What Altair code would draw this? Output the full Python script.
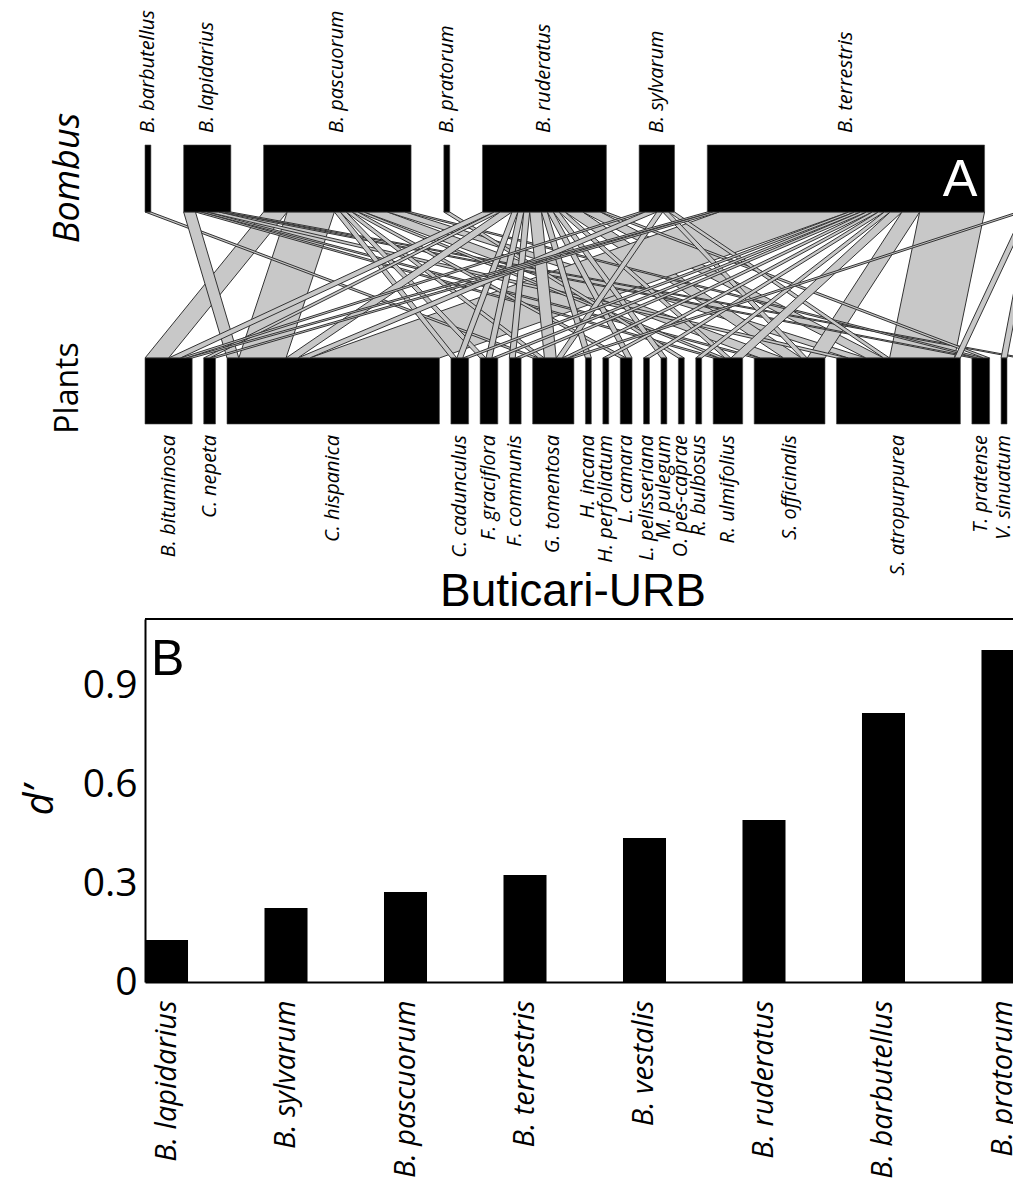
import altair as alt
import pandas as pd

# ---------------- data ----------------
bees = ["B. barbutellus", "B. lapidarius", "B. pascuorum", "B. pratorum",
        "B. ruderatus", "B. sylvarum", "B. terrestris", "B. vestalis"]

plants = ["B. bituminosa", "C. nepeta", "C. hispanica", "C. cadunculus",
          "F. graciflora", "F. communis", "G. tomentosa", "H. incana",
          "H. perfoliatum", "L. camara", "L. pelisseriana", "M. pulegum",
          "O. pes-caprae", "R. bulbosus", "R. ulmifolius", "S. officinalis",
          "S. atropurpurea", "T. pratense", "V. sinuatum", "V. villosa"]

# interaction counts: one row per bee, one column per plant (order as above)
interactions = [
    [0, 0, 0, 0, 0, 0, 1, 0, 0, 0, 0, 0, 0, 0, 0, 0, 0, 0, 0, 0],   # barbutellus
    [0, 0, 2, 0, 0, 0, 0, 0, 0, 0, 0, 0, 0, 0, 1, 1, 2, 1, 0, 1],   # lapidarius
    [4, 0, 8, 1, 1, 0, 1, 0, 0, 1, 0, 0, 0, 0, 1, 4, 3, 1, 0, 0],   # pascuorum
    [0, 0, 0, 0, 0, 0, 0, 0, 0, 0, 0, 0, 1, 0, 0, 0, 0, 0, 0, 0],   # pratorum
    [2, 1, 2, 1, 1, 1, 2, 1, 0, 1, 0, 1, 0, 0, 1, 3, 3, 1, 0, 0],   # ruderatus
    [1, 0, 2, 0, 0, 0, 1, 0, 0, 0, 0, 0, 0, 0, 0, 1, 1, 0, 0, 0],   # sylvarum
    [1, 1, 22, 1, 1, 1, 1, 0, 1, 0, 1, 0, 0, 1, 2, 3, 11, 0, 0, 0],  # terrestris
    [0, 0, 0, 0, 0, 0, 1, 0, 0, 0, 0, 0, 0, 0, 0, 0, 1, 0, 1, 2],   # vestalis
]

d_bees = ["B. lapidarius", "B. sylvarum", "B. pascuorum", "B. terrestris",
          "B. vestalis", "B. ruderatus", "B. barbutellus", "B. pratorum"]
d_values = [0.127, 0.224, 0.273, 0.324, 0.436, 0.491, 0.815, 1.006]

site_title = "Buticari-URB"

# ---------------- layout constants ----------------
PAD_LEFT = 137
PLOT_W = 868          # keeps the svg at 1005 px so it is not shrunk by the page
PLOT_H = 974
UNIT_PX = 5.9         # pixels per interaction
GAP_HIGH = 5.55       # gap between bee boxes (interaction units)
GAP_LOW = 1.95        # gap between plant boxes (interaction units)
HIGH_Y0, HIGH_Y1 = 137, 204
LOW_Y0, LOW_Y1 = 350, 416

nb, npl = len(bees), len(plants)
bee_tot = [sum(r) for r in interactions]
plant_tot = [sum(interactions[i][j] for i in range(nb)) for j in range(npl)]


def starts(totals, gap):
    out, s = [], 0.0
    for t in totals:
        out.append(s)
        s += t + gap
    return out


bee_x = starts(bee_tot, GAP_HIGH)
plant_x = starts(plant_tot, GAP_LOW)

box_rows = []
for name, x0, t in zip(bees, bee_x, bee_tot):
    box_rows.append({"name": name, "x0": x0, "x1": x0 + t, "xc": x0 + t / 2, "level": "high"})
for name, x0, t in zip(plants, plant_x, plant_tot):
    box_rows.append({"name": name, "x0": x0, "x1": x0 + t, "xc": x0 + t / 2, "level": "low"})
boxes = pd.DataFrame(box_rows)

bee_cur = list(bee_x)
plant_cur = list(plant_x)
link_rows = []
lid = 0
for i in range(nb):
    for j in range(npl):
        c = interactions[i][j]
        if c > 0:
            link_rows.append({"link": lid, "w": c, "y": HIGH_Y1,
                              "x": bee_cur[i], "x2": bee_cur[i] + c})
            link_rows.append({"link": lid, "w": c, "y": LOW_Y0,
                              "x": plant_cur[j], "x2": plant_cur[j] + c})
            bee_cur[i] += c
            plant_cur[j] += c
            lid += 1
links = pd.DataFrame(link_rows)
wide_links = links[links["w"] >= 3]
thin_links = links[links["w"] < 3]

xweb = alt.Scale(domain=[0, PLOT_W / UNIT_PX], range=[0, PLOT_W], nice=False, zero=False)
yweb = alt.Scale(domain=[0, PLOT_H], range=[0, PLOT_H], nice=False, zero=False)

LINK_FILL = "#c8c8c8"
LINK_STROKE = "#333333"


def link_layer(df):
    return alt.Chart(df).mark_area(
        orient="horizontal", fill=LINK_FILL, stroke=LINK_STROKE, strokeWidth=1
    ).encode(
        y=alt.Y("y:Q", scale=yweb, axis=None),
        x=alt.X("x:Q", scale=xweb, axis=None, stack=False),
        x2="x2:Q",
        detail="link:N",
    )


high_boxes = alt.Chart(boxes[boxes["level"] == "high"]).mark_rect(
    color="black", stroke="#444", strokeWidth=0.6
).encode(
    x=alt.X("x0:Q", scale=xweb, axis=None), x2="x1:Q",
    y=alt.value(HIGH_Y0), y2=alt.value(HIGH_Y1),
)
low_boxes = alt.Chart(boxes[boxes["level"] == "low"]).mark_rect(
    color="black", stroke="#444", strokeWidth=0.6
).encode(
    x=alt.X("x0:Q", scale=xweb, axis=None), x2="x1:Q",
    y=alt.value(LOW_Y0), y2=alt.value(LOW_Y1),
)
high_labels = alt.Chart(boxes[boxes["level"] == "high"]).mark_text(
    angle=270, align="left", baseline="middle", font="Open Sans",
    fontStyle="italic", fontSize=20, color="black"
).encode(
    x=alt.X("xc:Q", scale=xweb, axis=None), y=alt.value(125), text="name:N"
)
low_labels = alt.Chart(boxes[boxes["level"] == "low"]).mark_text(
    angle=270, align="right", baseline="middle", font="Open Sans",
    fontStyle="italic", fontSize=20, color="black"
).encode(
    x=alt.X("xc:Q", scale=xweb, axis=None), y=alt.value(427), text="name:N"
)

t_bombus = alt.Chart(pd.DataFrame({"t": ["Bombus"]})).mark_text(
    angle=270, align="center", baseline="middle", font="Open Sans",
    fontStyle="italic", fontSize=36, color="black"
).encode(x=alt.value(-77), y=alt.value(170), text="t:N")
t_plants = alt.Chart(pd.DataFrame({"t": ["Plants"]})).mark_text(
    angle=270, align="center", baseline="middle", font="Open Sans",
    fontSize=32, color="black"
).encode(x=alt.value(-77), y=alt.value(380), text="t:N")
t_site = alt.Chart(pd.DataFrame({"t": [site_title]})).mark_text(
    align="center", baseline="middle", font="Liberation Sans",
    fontSize=46, color="black"
).encode(x=alt.value(428), y=alt.value(584), text="t:N")
t_A = alt.Chart(pd.DataFrame({"t": ["A"]})).mark_text(
    align="center", baseline="middle", font="Liberation Sans",
    fontSize=52, color="white"
).encode(x=alt.value(815), y=alt.value(172), text="t:N")

web = alt.layer(
    link_layer(wide_links), link_layer(thin_links),
    high_boxes, low_boxes, high_labels, low_labels,
    t_bombus, t_plants, t_site, t_A,
)

# ---------------- panel B ----------------
df_d = pd.DataFrame({"bee": d_bees, "d": d_values})
yb = alt.Scale(domain=[0, 1.1], range=[PLOT_H, 611], nice=False, zero=True)

bars = alt.Chart(df_d).mark_bar(color="black").encode(
    x=alt.X(
        "bee:N", sort=d_bees,
        scale=alt.Scale(range=[0, 879.5], paddingInner=0.64, paddingOuter=0),
        axis=alt.Axis(
            orient="bottom", title=None, labelAngle=270, labelAlign="right",
            labelBaseline="middle", labelFont="Open Sans", labelFontStyle="italic",
            labelFontSize=29, labelPadding=18, labelColor="black", ticks=False,
            domainColor="black", domainWidth=2, labelOverlap=False,
        ),
    ),
    y=alt.Y(
        "d:Q", scale=yb,
        axis=alt.Axis(
            orient="left", values=[0, 0.3, 0.6, 0.9], format=".1~f", grid=False,
            ticks=False, labelFont="Open Sans", labelFontSize=39, labelPadding=8,
            labelColor="black", domainColor="black", domainWidth=2,
            title="d’", titleFont="Open Sans", titleFontStyle="italic",
            titleFontSize=40, titleFontWeight="normal", titleColor="black",
            titleAngle=270, titleAlign="center", titleBaseline="middle",
            titleX=-105, titleY=792,
        ),
    ),
)
frame_top = alt.Chart(pd.DataFrame({"k": [0]})).mark_rule(
    color="black", strokeWidth=2
).encode(y=alt.datum(1.1, scale=yb), x=alt.value(0), x2=alt.value(PLOT_W))
t_B = alt.Chart(pd.DataFrame({"t": ["B"]})).mark_text(
    align="left", baseline="alphabetic", font="Liberation Sans",
    fontSize=50, color="black"
).encode(x=alt.value(6), y=alt.value(667), text="t:N")

panel_b = alt.layer(bars, frame_top, t_B)

chart = alt.layer(panel_b, web).resolve_scale(
    x="independent", y="independent"
).resolve_axis(
    x="independent", y="independent"
).properties(
    width=PLOT_W, height=PLOT_H,
    autosize=alt.AutoSizeParams(type="none"),
    padding={"left": PAD_LEFT, "top": 0, "right": 0, "bottom": 202},
).configure_view(strokeWidth=0)

chart.save("out.html", embed_options={"renderer": "svg", "actions": False})
